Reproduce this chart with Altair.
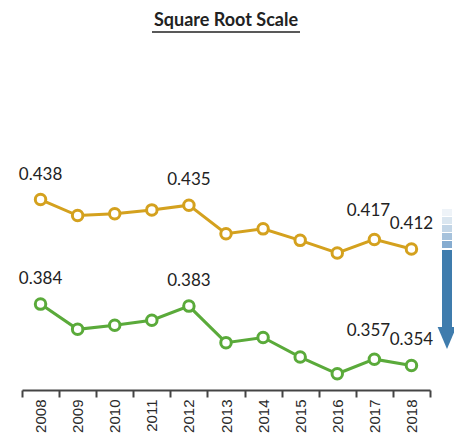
import altair as alt
import pandas as pd

years = [str(y) for y in range(2008, 2019)]
gold_values = [0.438, 0.4295, 0.4305, 0.4325, 0.435, 0.420, 0.4225, 0.4165, 0.410, 0.417, 0.412]
green_values = [0.384, 0.3715, 0.3735, 0.376, 0.383, 0.365, 0.3675, 0.358, 0.350, 0.357, 0.354]
labeled_years = ["2008", "2012", "2017", "2018"]
series_names = ["Gold", "Green"]
series_colors = ["#d4a11e", "#5aaa3a"]
title_text = "Square Root Scale"
arrow_shades = ["#eef3f8", "#dae6f0", "#c3d6e7", "#a6c2dc", "#86acd0"]
arrow_color = "#3f7cad"

rows = []
for name, vals in zip(series_names, [gold_values, green_values]):
    for yr, v in zip(years, vals):
        rows.append({"year": yr, "value": v, "series": name,
                     "label": f"{v:.3f}" if yr in labeled_years else ""})
df = pd.DataFrame(rows)

x_enc = alt.X("year:O", bandPosition=0.5,
              scale=alt.Scale(type="band", paddingInner=0, paddingOuter=0),
              axis=alt.Axis(title=None, labelAngle=270, tickBand="extent",
                            domainColor="#444", domainWidth=2, tickColor="#444",
                            tickWidth=2, tickSize=7, labelFont="Liberation Sans",
                            labelFontSize=15, labelColor="#2a2a2a", labelPadding=2,
                            grid=False))
y_enc = alt.Y("value:Q", scale=alt.Scale(type="sqrt", domain=[0.3423, 0.5156],
                                         zero=False, nice=False), axis=None)
col_scale = alt.Scale(domain=series_names, range=series_colors)

base = alt.Chart(df)
lines = base.mark_line(strokeWidth=3).encode(
    x=x_enc, y=y_enc, color=alt.Color("series:N", scale=col_scale, legend=None),
    detail="series:N")
points = base.mark_point(filled=True, fill="white", strokeWidth=3, size=110, opacity=1).encode(
    x=x_enc, y=y_enc, stroke=alt.Stroke("series:N", scale=col_scale, legend=None))
labels_main = base.transform_filter(
    (alt.datum.label != "") & (alt.datum.year != "2017")
).mark_text(dy=-25, font="Lato", fontSize=17, color="#222").encode(
    x=x_enc, y=y_enc, text="label:N")
labels_2017 = base.transform_filter(
    alt.datum.year == "2017"
).mark_text(dy=-28, dx=-6, font="Lato", fontSize=17, color="#222").encode(
    x=x_enc, y=y_enc, text="label:N")

tdf = pd.DataFrame({"t": [title_text]})
title = alt.Chart(tdf).mark_text(font="Lato", fontSize=18, fontWeight="bold",
                                 color="#222", align="center").encode(
    text="t:N", x=alt.value(204), y=alt.value(-39))
underline = alt.Chart(tdf).mark_rule(color="#222", strokeWidth=1.5).encode(
    x=alt.value(130), x2=alt.value(278), y=alt.value(-28))

arrow_layers = []
seg_tops = [149, 157, 165, 173, 181]
for top, shade in zip(seg_tops, arrow_shades):
    arrow_layers.append(alt.Chart(tdf).mark_rect(color=shade).encode(
        x=alt.value(420), x2=alt.value(430), y=alt.value(top), y2=alt.value(top + 7)))
arrow_layers.append(alt.Chart(tdf).mark_rect(color=arrow_color).encode(
    x=alt.value(420), x2=alt.value(430), y=alt.value(190), y2=alt.value(269)))
arrow_layers.append(alt.Chart(tdf).mark_point(shape="M-0.85,-1L0.85,-1L0,1Z", filled=True,
                                               size=484, color=arrow_color, opacity=1).encode(
    x=alt.value(425), y=alt.value(278)))

chart = alt.layer(lines, points, labels_main, labels_2017, title, underline, *arrow_layers).properties(
    width=408, height=330,
    autosize=alt.AutoSizeParams(type="none"),
    padding={"left": 14, "top": 52, "right": 24, "bottom": 43},
).configure_view(stroke=None)

chart.save("out.html", embed_options={"renderer": "svg", "actions": False})
